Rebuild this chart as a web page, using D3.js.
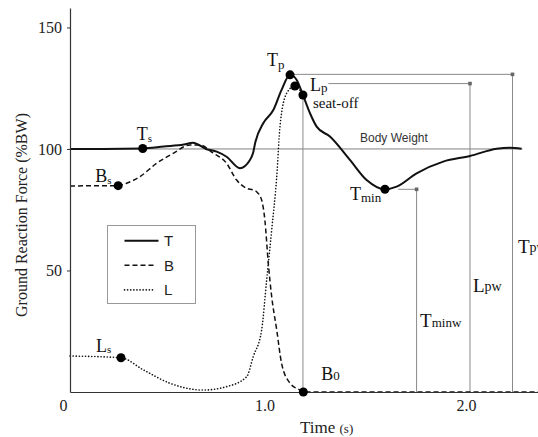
<!DOCTYPE html>
<html>
<head>
<meta charset="utf-8">
<script src="https://cdn.jsdelivr.net/npm/d3@7/dist/d3.min.js"></script>
<style>
  html, body { margin: 0; padding: 0; background: #fff; }
  svg { display: block; }
</style>
</head>
<body>
<svg id="chart" width="538" height="437"></svg>
<script>
// ---------------- DATA ----------------
// Total (T) force curve, time (s) and force (%BW)
const tTime  = [0.035, 0.2, 0.396, 0.5, 0.6, 0.645, 0.713, 0.763, 0.812, 0.878, 0.928, 0.943, 0.955, 0.994, 1.044, 1.085, 1.127, 1.160, 1.191, 1.226, 1.259, 1.325, 1.424, 1.507, 1.598, 1.656, 1.755, 1.887, 2.02, 2.152, 2.218, 2.276];
const tForce = [100, 100, 100.2, 101, 101.8, 102.6, 99.9, 98.9, 96.8, 92.1, 95.5, 98.2, 102.9, 110.6, 116, 124.3, 130.5, 128.4, 122.2, 114.7, 109.2, 105.1, 95.5, 87.2, 83.4, 84.5, 90, 94.8, 97.1, 100.1, 100.5, 100.1];
// Buttock (B) force curve
const bTime  = [0.035, 0.274, 0.316, 0.382, 0.465, 0.547, 0.630, 0.680, 0.744, 0.812, 0.862, 0.912, 0.944, 0.961, 0.986, 1.002, 1.019, 1.036, 1.061, 1.085, 1.127, 1.176, 1.193, 2.36];
const bForce = [84.8, 84.9, 85.9, 88.6, 94.1, 98.2, 101.6, 101.6, 98.4, 94.1, 87.2, 83.8, 83.1, 82.4, 79, 70.8, 53, 39.2, 25.5, 11.8, 3.6, 0.8, 0, 0];
// Leg (L) force curve
const lTime  = [0.035, 0.288, 0.399, 0.531, 0.696, 0.812, 0.912, 0.944, 0.986, 1.011, 1.036, 1.061, 1.077, 1.110, 1.151, 1.191];
const lForce = [14.8, 14.1, 9.1, 3.6, 0.8, 2.2, 6.3, 14.5, 25.5, 46.1, 66.7, 88.6, 109.2, 122.9, 125.9, 122.2];

// Key points (dots)
const pointNames = ["Ts", "Tp", "seat-off", "Tmin", "Bs", "B0", "Ls", "Lp"];
const pointTime  = [0.396, 1.127, 1.191, 1.598, 0.274, 1.193, 0.288, 1.151];
const pointForce = [100.2, 130.5, 122.2, 83.4, 84.9, 0, 14.1, 125.9];

// Width (duration) markers: horizontal from start to end time at level, then vertical down to 0
const markNames = ["Tpw", "Lpw", "Tminw"];
const markStart = [1.127, 1.317, 1.664];
const markEnd   = [2.231, 2.02, 1.755];
const markLevel = [130.7, 126.9, 83.4];

const bodyWeight = 100;
const bodyWeightEnd = 2.28;
const xTicks = [0, 1, 2];
const yTicks = [50, 100, 150];
const legendNames = ["T", "B", "L"];

// ---------------- LAYOUT ----------------
const svg = d3.select("#chart");
const serif = "'Liberation Serif', 'Times New Roman', Times, serif";
const sans = "'Liberation Sans', Arial, Helvetica, sans-serif";

const x = d3.scaleLinear().domain([0.035, 2.36]).range([70, 538.5]);
const y = d3.scaleLinear().domain([0, 158]).range([392, 8]);

const styles = {
  T: { width: 2, dash: null, cap: "butt" },
  B: { width: 1.5, dash: "5,3", cap: "butt" },
  L: { width: 1.6, dash: "0.1,3", cap: "round" }
};

// Body weight line
svg.append("line")
  .attr("x1", x(0.035)).attr("x2", x(bodyWeightEnd))
  .attr("y1", y(bodyWeight)).attr("y2", y(bodyWeight))
  .attr("stroke", "#808080").attr("stroke-width", 1);
svg.append("text")
  .attr("x", 360).attr("y", 142)
  .attr("font-family", sans).attr("font-size", 12).attr("fill", "#333")
  .text("Body Weight");

// Width marker lines
markNames.forEach((n, i) => {
  const g = svg.append("g").attr("stroke", "#8a8a8a").attr("stroke-width", 1).attr("fill", "none");
  g.append("line")
    .attr("x1", x(markStart[i])).attr("x2", x(markEnd[i]))
    .attr("y1", y(markLevel[i])).attr("y2", y(markLevel[i]));
  g.append("line")
    .attr("x1", x(markEnd[i])).attr("x2", x(markEnd[i]))
    .attr("y1", y(markLevel[i])).attr("y2", y(0));
  svg.append("rect")
    .attr("x", x(markEnd[i]) - 1.8).attr("y", y(markLevel[i]) - 1.8)
    .attr("width", 3.6).attr("height", 3.6)
    .attr("fill", "#666");
});
// Seat-off vertical
const so = pointNames.indexOf("seat-off");
svg.append("line")
  .attr("x1", x(pointTime[so])).attr("x2", x(pointTime[so]))
  .attr("y1", y(pointForce[so])).attr("y2", y(0))
  .attr("stroke", "#8a8a8a").attr("stroke-width", 1);

// Curves
const line = d3.line().x(d => x(d[0])).y(d => y(d[1])).curve(d3.curveMonotoneX);
const series = [
  ["T", d3.zip(tTime, tForce)],
  ["B", d3.zip(bTime, bForce)],
  ["L", d3.zip(lTime, lForce)]
];
// draw L, B first then T on top
[series[2], series[1], series[0]].forEach(([name, data]) => {
  const s = styles[name];
  svg.append("path")
    .attr("d", line(data))
    .attr("fill", "none")
    .attr("stroke", "#111")
    .attr("stroke-width", s.width)
    .attr("stroke-dasharray", s.dash)
    .attr("stroke-linecap", s.cap);
});

// Axes
const yAxis = d3.axisLeft(y).tickValues(yTicks).tickSize(3).tickSizeOuter(0).tickPadding(5);
const gy = svg.append("g").attr("transform", `translate(${x(0.035)},0)`).call(yAxis);
gy.select(".domain").attr("stroke", "#333").attr("stroke-width", 1.2);
gy.selectAll(".tick line").attr("stroke", "#333");
gy.selectAll("text").attr("font-family", serif).attr("font-size", 16).attr("fill", "#222");

const xAxis = d3.axisBottom(x).tickValues(xTicks).tickSize(0).tickSizeOuter(0).tickPadding(8)
  .tickFormat(d => d === 0 ? "0" : d3.format(".1f")(d));
const gx = svg.append("g").attr("transform", `translate(0,${y(0)})`).call(xAxis);
gx.select(".domain").attr("stroke", "#333").attr("stroke-width", 1.2);
gx.selectAll("text").attr("font-family", serif).attr("font-size", 16).attr("fill", "#222");

// Axis titles
svg.append("text")
  .attr("transform", "translate(27,215) rotate(-90)")
  .attr("text-anchor", "middle")
  .attr("font-family", serif).attr("font-size", 16).attr("fill", "#222")
  .text("Ground Reaction Force (%BW)");
const xt = svg.append("text")
  .attr("x", 300).attr("y", 433)
  .attr("font-family", serif).attr("fill", "#222");
xt.append("tspan").attr("font-size", 17).text("Time ");
xt.append("tspan").attr("font-size", 13).text("(s)");

// Dots
pointNames.forEach((n, i) => {
  svg.append("circle")
    .attr("cx", x(pointTime[i])).attr("cy", y(pointForce[i]))
    .attr("r", 4.5).attr("fill", "#000");
});

// Labels: main letter + subscript
function label(px, py, main, sub, subSize, subDy, mainSize) {
  const t = svg.append("text").attr("x", px).attr("y", py)
    .attr("font-family", serif).attr("fill", "#111");
  t.append("tspan").attr("font-size", mainSize || 18).text(main);
  if (sub) t.append("tspan").attr("font-size", subSize).attr("dy", subDy).text(sub);
  return t;
}
function P(name) { const i = pointNames.indexOf(name); return [x(pointTime[i]), y(pointForce[i])]; }

let p;
p = P("Ts"); label(p[0] - 6, p[1] - 8.5, "T", "s", 11, 2);
p = P("Bs"); label(p[0] - 23, p[1] - 4, "B", "s", 11, 2);
p = P("Ls"); label(p[0] - 25, p[1] - 6, "L", "s", 11, 1);
p = P("Tp"); label(p[0] - 23, p[1] - 9, "T", "p", 13, 3);
p = P("Lp"); label(p[0] + 15, p[1] + 5, "L", "p", 13, 1);
p = P("seat-off");
svg.append("text").attr("x", p[0] + 10).attr("y", p[1] + 13)
  .attr("font-family", serif).attr("font-size", 15).attr("fill", "#111").text("seat-off");
p = P("Tmin"); label(p[0] - 35, p[1] + 11, "T", "min", 13, 2);
p = P("B0"); label(p[0] + 18, p[1] - 12, "B", "0", 13, 0);

// width labels
const mi = n => markNames.indexOf(n);
label(x(markEnd[mi("Tminw")]) + 3.5, 327, "T", "minw", 13, 0, 19);
label(x(markEnd[mi("Lpw")]) + 3, 292, "L", "pw", 14, -1, 19);
label(x(markEnd[mi("Tpw")]) + 5.5, 253, "T", "pw", 14, -1, 19);

// Legend
const lg = svg.append("g");
lg.append("rect").attr("x", 107.5).attr("y", 225.5).attr("width", 88).attr("height", 78)
  .attr("fill", "#fff").attr("stroke", "#999").attr("stroke-width", 1);
legendNames.forEach((n, i) => {
  const s = styles[n];
  const yy = 240.7 + i * 24.6;
  lg.append("line")
    .attr("x1", 124.5).attr("x2", n === "T" ? 158.5 : 153.5)
    .attr("y1", yy).attr("y2", yy)
    .attr("stroke", "#111").attr("stroke-width", s.width)
    .attr("stroke-dasharray", s.dash).attr("stroke-linecap", s.cap);
  lg.append("text")
    .attr("x", 164).attr("y", yy + 5.5)
    .attr("font-family", sans).attr("font-size", 15).attr("fill", "#222")
    .text(n);
});
</script>
</body>
</html>
